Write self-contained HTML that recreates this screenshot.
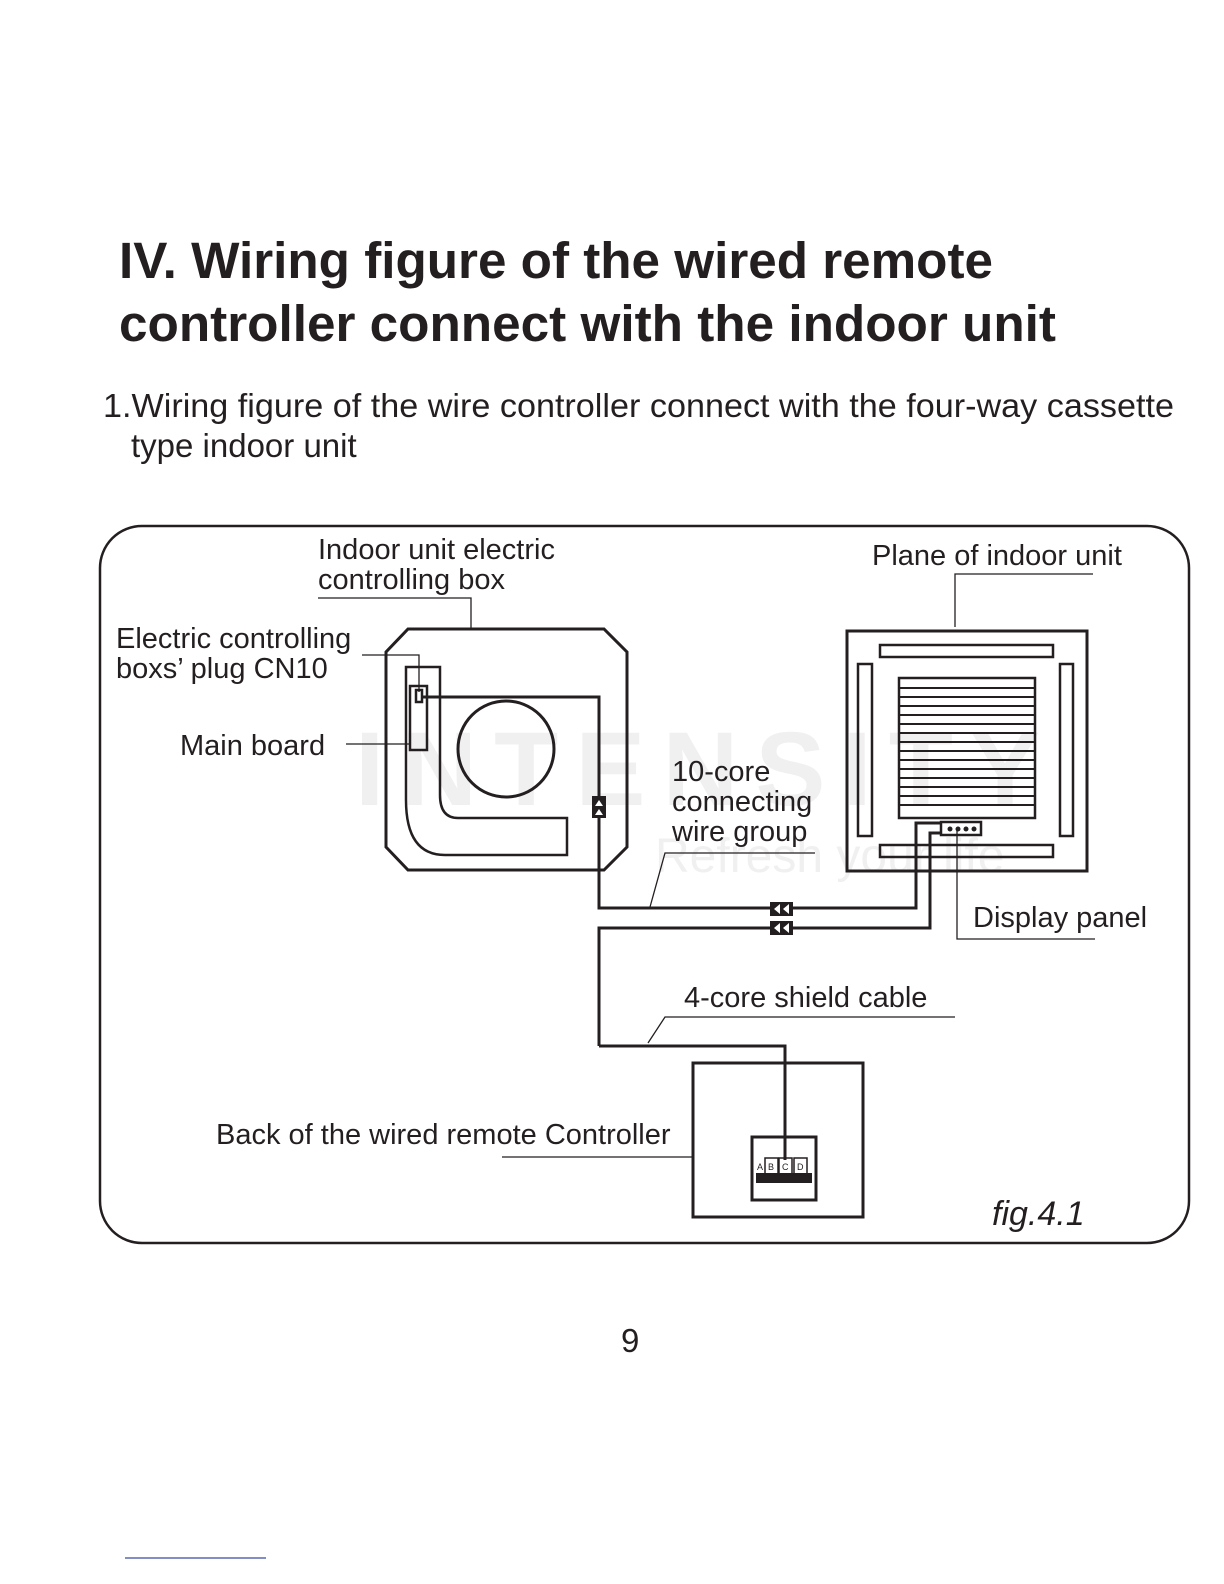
<!DOCTYPE html>
<html><head><meta charset="utf-8"><style>
html,body{margin:0;padding:0;background:#fff;}
body{width:1224px;height:1584px;position:relative;overflow:hidden;font-family:"Liberation Sans",sans-serif;color:#231f20;}
</style></head><body>
<svg width="1224" height="1584" viewBox="0 0 1224 1584" xmlns="http://www.w3.org/2000/svg" style="position:absolute;left:0;top:0">
<g font-family="Liberation Sans, sans-serif" fill="#231f20">
<text x="119" y="278" font-size="51" font-weight="bold" textLength="874" lengthAdjust="spacingAndGlyphs">IV. Wiring figure of the wired remote</text>
<text x="119" y="341" font-size="51" font-weight="bold" textLength="937" lengthAdjust="spacingAndGlyphs">controller connect with the indoor unit</text>
<text x="103" y="417" font-size="33" textLength="1071" lengthAdjust="spacingAndGlyphs">1.Wiring figure of the wire controller connect with the four-way cassette</text>
<text x="131" y="457" font-size="33">type indoor unit</text>
</g>
<!-- watermark -->
<g fill="#f0f0f0" font-family="Liberation Sans, sans-serif" font-weight="bold">
<text x="355" y="805" font-size="105" textLength="685" lengthAdjust="spacing">INTENSITY</text>
<text x="655" y="872" font-size="48" font-weight="normal">Refresh your life</text>
</g>
<rect x="100" y="526" width="1089" height="717" rx="42" fill="none" stroke="#231f20" stroke-width="2.5"/>
<g fill="none" stroke="#231f20" stroke-width="3">
<polygon points="408,629 604,629 627,652 627,847 604,870 408,870 386,847 386,652"/>
<path d="M406,667 V800 Q406,855 445,855 H567 V818 H458 Q440,818 440,795 V667 Z" stroke-width="2.5"/>
<rect x="410" y="686" width="17" height="64" stroke-width="2.5"/>
<rect x="416" y="690" width="6" height="12" stroke-width="2.5"/>
<circle cx="506" cy="749" r="48"/>
<polyline points="422,697 599,697 599,908 916,908 916,823 941,823"/>
<polyline points="599,1046 599,928 930,928 930,833 941,833"/>
<polyline points="599,1046 785,1046 785,1160"/>
<rect x="847" y="631" width="240" height="240"/>
<rect x="880" y="645" width="173" height="12" stroke-width="2.5"/>
<rect x="880" y="845" width="173" height="12" stroke-width="2.5"/>
<rect x="858" y="664" width="14" height="172" stroke-width="2.5"/>
<rect x="1060" y="664" width="13" height="172" stroke-width="2.5"/>
<rect x="899" y="678" width="136" height="140" stroke-width="2.5"/>
<rect x="941" y="822" width="40" height="13" stroke-width="2.5"/>
<rect x="693" y="1063" width="170" height="154"/>
<rect x="752" y="1137" width="64" height="63"/>
</g>
<g stroke="#231f20" stroke-width="2">
<path d="M899,688H1035M899,697H1035M899,706H1035M899,715H1035M899,724H1035M899,733H1035M899,742H1035M899,751H1035M899,760H1035M899,769H1035M899,778H1035M899,787H1035M899,796H1035M899,805H1035"/>
</g>
<g fill="#231f20">
<rect x="592" y="796" width="14" height="22"/>
<rect x="770" y="902" width="23" height="14"/>
<rect x="770" y="921" width="23" height="14"/>
<rect x="756" y="1173" width="56" height="10"/>
<circle cx="950" cy="829" r="2.5"/><circle cx="958" cy="829" r="2.5"/><circle cx="966" cy="829" r="2.5"/><circle cx="974" cy="829" r="2.5"/>
</g>
<g fill="#fff">
<path d="M595,806 l4,-6 4,6z M595,815 l4,-6 4,6z"/>
<path d="M780,904 l-6,5 6,5z M789,904 l-6,5 6,5z M780,923 l-6,5 6,5z M789,923 l-6,5 6,5z"/>
</g>
<g fill="none" stroke="#231f20" stroke-width="1.5">
<rect x="765" y="1158" width="13" height="17"/><rect x="779" y="1158" width="13" height="17"/><rect x="794" y="1158" width="13" height="17"/>
</g>
<g font-family="Liberation Sans, sans-serif" font-size="9" fill="#231f20">
<text x="757" y="1170">A</text><text x="768" y="1170">B</text><text x="782" y="1170">C</text><text x="797" y="1170">D</text>
</g>
<g fill="none" stroke="#231f20" stroke-width="1.3">
<polyline points="318,598 471,598 471,628"/>
<polyline points="955,627 955,574 1093,574"/>
<polyline points="362,655 419,655 419,692"/>
<line x1="346" y1="744" x2="410" y2="744"/>
<polyline points="815,853 665,853 650,907"/>
<polyline points="957,829 957,939 1095,939"/>
<polyline points="955,1017 665,1017 648,1043"/>
<line x1="502" y1="1157" x2="693" y2="1157"/>
<line x1="125" y1="1558" x2="266" y2="1558" stroke="#3b4aa0"/>
</g>
<g font-family="Liberation Sans, sans-serif" font-size="29" fill="#231f20">
<text x="318" y="559">Indoor unit electric</text>
<text x="318" y="589">controlling box</text>
<text x="872" y="565">Plane of indoor unit</text>
<text x="116" y="648">Electric controlling</text>
<text x="116" y="678">boxs’  plug CN10</text>
<text x="180" y="755">Main board</text>
<text x="672" y="781">10-core</text>
<text x="672" y="811">connecting</text>
<text x="672" y="841">wire group</text>
<text x="973" y="927">Display panel</text>
<text x="684" y="1007">4-core shield cable</text>
<text x="216" y="1144">Back of the wired remote Controller</text>
<text x="992" y="1225" font-style="italic" font-size="34">fig.4.1</text>
<text x="621" y="1352" font-size="33">9</text>
</g>
</svg>
</body></html>
